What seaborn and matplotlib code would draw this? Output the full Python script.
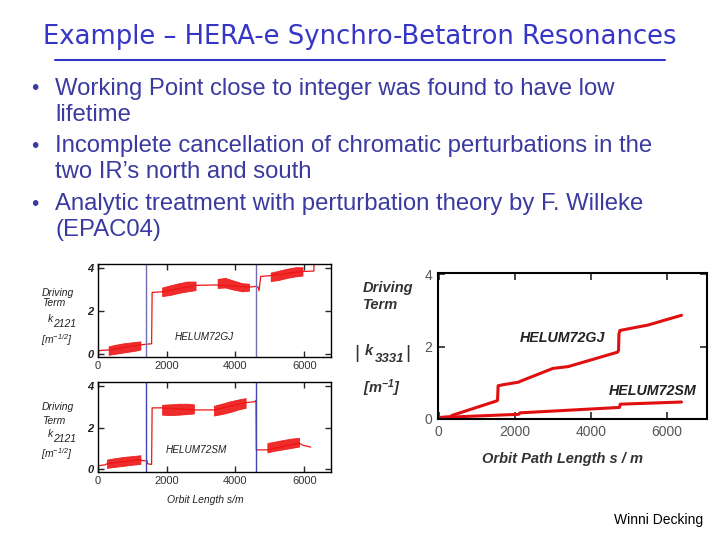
import matplotlib
matplotlib.use("Agg")
import matplotlib.pyplot as plt
import seaborn as sns
import numpy as np

# ---------------- data ----------------
title = "Example – HERA-e Synchro-Betatron Resonances"
bullet_lines = [
    ("Working Point close to integer was found to have low", True),
    ("lifetime", False),
    ("Incomplete cancellation of chromatic perturbations in the", True),
    ("two IR’s north and south", False),
    ("Analytic treatment with perturbation theory by F. Willeke", True),
    ("(EPAC04)", False),
]
footer = "Winni Decking"

xticks_small = [0, 2000, 4000, 6000]
yticks_small = [0, 2, 4]
ir_positions = [1400, 4605]

# measured driving term k2121, HELUM72GJ (thin line + oscillation bands)
gj_s = [0, 30, 300, 1234, 1560, 1575, 1866, 2838, 3420, 4393, 4590, 4660, 4685, 4735, 4977, 5950, 6280, 6290]
gj_k = [0.0, 0.15, 0.18, 0.42, 0.47, 2.87, 2.9, 3.2, 3.22, 3.12, 3.15, 3.12, 2.95, 3.62, 3.65, 3.85, 3.87, 4.3]
gj_bands = [
    ([310, 500, 700, 900, 1100, 1234], [-0.05, 0.0, 0.05, 0.1, 0.15, 0.2], [0.35, 0.42, 0.48, 0.52, 0.56, 0.58]),
    ([1866, 2100, 2350, 2600, 2838], [2.7, 2.75, 2.85, 2.92, 2.98], [3.1, 3.2, 3.3, 3.38, 3.38]),
    ([3480, 3700, 3950, 4200, 4393], [3.08, 3.1, 3.0, 2.92, 2.95], [3.5, 3.55, 3.42, 3.3, 3.28]),
    ([5025, 5250, 5500, 5750, 5950], [3.4, 3.45, 3.55, 3.62, 3.66], [3.8, 3.88, 3.98, 4.05, 4.05]),
]

# measured driving term k2121, HELUM72SM
sm_s = [0, 10, 214, 262, 1234, 1283, 1429, 1440, 1545, 1560, 1575, 1866, 2790, 3373, 4296, 4568, 4598, 4607, 4928, 5851, 5950, 6191]
sm_k = [0.0, 0.15, 0.2, 0.25, 0.45, 0.4, 0.39, 0.25, 0.22, 0.22, 2.95, 2.95, 2.85, 2.85, 3.2, 3.25, 3.32, 0.92, 0.92, 1.25, 1.15, 1.05]
sm_bands = [
    ([262, 500, 750, 1000, 1234], [0.05, 0.1, 0.15, 0.2, 0.24], [0.45, 0.52, 0.58, 0.62, 0.66]),
    ([1866, 2100, 2350, 2600, 2790], [2.62, 2.6, 2.62, 2.65, 2.68], [3.1, 3.12, 3.15, 3.15, 3.12]),
    ([3373, 3600, 3850, 4100, 4296], [2.58, 2.65, 2.75, 2.88, 2.95], [3.05, 3.15, 3.27, 3.36, 3.42]),
    ([4928, 5150, 5400, 5650, 5851], [0.8, 0.88, 0.95, 1.02, 1.08], [1.25, 1.32, 1.4, 1.47, 1.5]),
]

# analytic |k3331|
an_gj_s = [0, 300, 350, 1520, 1545, 1560, 1700, 2100, 2135, 3000, 3400, 4700, 4725, 4735, 4760, 5500, 6380]
an_gj_k = [0.04, 0.06, 0.1, 0.5, 0.52, 0.92, 0.95, 1.02, 1.04, 1.4, 1.45, 1.85, 1.9, 2.35, 2.45, 2.6, 2.87]
an_sm_s = [0, 700, 2100, 2135, 4750, 4770, 6380]
an_sm_k = [0.04, 0.07, 0.13, 0.17, 0.32, 0.41, 0.47]

# ---------------- style ----------------
sns.set_style("ticks")
plt.rcParams['font.family'] = ['Liberation Sans', 'DejaVu Sans']
plt.rcParams['mathtext.fontset'] = 'custom'
plt.rcParams['mathtext.rm'] = 'Liberation Sans:italic'
plt.rcParams['mathtext.it'] = 'Liberation Sans:italic'
plt.rcParams['mathtext.bf'] = 'Liberation Sans:bold:italic'

W, H = 720, 540
fig = plt.figure(figsize=(7.2, 5.4), dpi=100)
fig.patch.set_facecolor("white")

def fx(px):
    return px / W

def fy(py):
    return 1 - py / H

def axes_px(l, t, r, b):
    return fig.add_axes([fx(l), fy(b), (r - l) / W, (b - t) / H])

# title
fig.text(fx(360), fy(37), title, ha="center", va="center", fontsize=18.6,
         color="#3535c8", family=["DejaVu Sans"])
fig.add_artist(plt.Line2D([fx(55), fx(665)], [fy(60), fy(60)], color="#3535c8", lw=1.5))

# bullets
ys = [89, 115, 146, 172, 204, 230]
for (txt, has_bullet), y in zip(bullet_lines, ys):
    if has_bullet:
        fig.text(fx(31), fy(y), "•", ha="left", va="center", fontsize=15, color="#3a3aa0")
    fig.text(fx(55), fy(y), txt, ha="left", va="center", fontsize=17.2, color="#3a3aa0")

fig.text(fx(703), fy(520), footer, ha="right", va="center", fontsize=10, color="black")

red = "#ee1515"

def small_panel(top, bottom, s, k, bands, label, lx, ly, line_color):
    ax = axes_px(98, top, 331, bottom)
    sns.lineplot(x=s, y=k, ax=ax, color=red, lw=0.9, sort=False, estimator=None)
    for bs, lo, hi in bands:
        ax.fill_between(bs, lo, hi, color=red, lw=0.6, alpha=0.9)
    for xv in ir_positions:
        ax.axvline(xv, color=line_color, lw=1.0)
    ax.set_xlim(0, 6780)
    ax.set_ylim(-0.15, 4.2)
    ax.set_xticks(xticks_small)
    ax.set_yticks(yticks_small)
    ax.set_xticklabels([str(v) for v in xticks_small], fontsize=8, color="#333333")
    ax.set_yticklabels([str(v) for v in yticks_small], fontsize=8, fontweight="bold",
                       fontstyle="italic", color="#222222")
    ax.tick_params(direction="in", top=True, right=True, length=4, width=1, pad=3)
    for sp in ax.spines.values():
        sp.set_color("black")
        sp.set_linewidth(1.0)
    ax.set_xlabel("")
    ax.set_ylabel("")
    ax.text(lx, ly, label, ha="center", va="center", fontsize=7.2, fontstyle="italic", color="#222222")
    return ax

ax1 = small_panel(264, 357, gj_s, gj_k, gj_bands, "HELUM72GJ", 3100, 0.78, "#7070b0")
ax2 = small_panel(382, 472, sm_s, sm_k, sm_bands, "HELUM72SM", 2860, 0.92, "#4545b0")

lab_small = dict(fontsize=7.5, fontstyle="italic", va="center", color="#222222")
for (yd, yt, yk, ym) in [(293, 303, 322, 340), (407, 421, 437, 454)]:
    fig.text(fx(42), fy(yd), "Driving", **lab_small)
    fig.text(fx(42), fy(yt), "Term", **lab_small)
    fig.text(fx(48), fy(yk - 3), "k", **lab_small)
    fig.text(fx(53), fy(yk + 2), "2121", **lab_small)
    fig.text(fx(41), fy(ym), "[m$^{-1/2}$]", **lab_small)

fig.text(fx(205), fy(500), "Orbit Length s/m", fontsize=7.5, fontstyle="italic", ha="center",
         va="center", color="#222222")

# analytic panel
ax3 = axes_px(438, 273, 707, 419)
sns.lineplot(x=an_gj_s, y=an_gj_k, ax=ax3, color="#e01010", lw=2.2, sort=False, estimator=None)
sns.lineplot(x=an_sm_s, y=an_sm_k, ax=ax3, color="#e01010", lw=2.2, sort=False, estimator=None)
ax3.set_xlim(-20, 7050)
ax3.set_ylim(0, 4.04)
ax3.set_xticks(xticks_small)
ax3.set_yticks(yticks_small)
ax3.set_xticklabels([str(v) for v in xticks_small], fontsize=10, color="#555555")
ax3.set_yticklabels([str(v) for v in yticks_small], fontsize=10, color="#555555")
ax3.tick_params(direction="in", top=True, right=True, length=5, width=1.2, pad=4)
for sp in ax3.spines.values():
    sp.set_color("black")
    sp.set_linewidth(1.5)
ax3.set_xlabel("")
ax3.set_ylabel("")
ax3.text(3260, 2.23, "HELUM72GJ", ha="center", va="center", fontsize=10.3,
         fontweight="bold", fontstyle="italic", color="#222222")
ax3.text(5625, 0.78, "HELUM72SM", ha="center", va="center", fontsize=10.3,
         fontweight="bold", fontstyle="italic", color="#222222")

lab = dict(fontsize=10.5, fontweight="bold", fontstyle="italic", color="#333333", va="center")
fig.text(fx(363), fy(288), "Driving", **lab)
fig.text(fx(363), fy(305), "Term", **lab)
fig.text(fx(354), fy(354), "|", fontsize=14, color="#333333", va="center")
fig.text(fx(365), fy(351), "k", **lab)
fig.text(fx(375), fy(359), "3331", fontsize=9.5, fontweight="bold", fontstyle="italic",
         color="#333333", va="center")
fig.text(fx(405), fy(354), "|", fontsize=14, color="#333333", va="center")
fig.text(fx(363), fy(388), "[m$^{\\mathbf{-1}}$]", **lab)
fig.text(fx(563), fy(459), "Orbit Path Length s / m", ha="center", **lab)

fig.savefig("out.png", dpi=100, facecolor="white")
